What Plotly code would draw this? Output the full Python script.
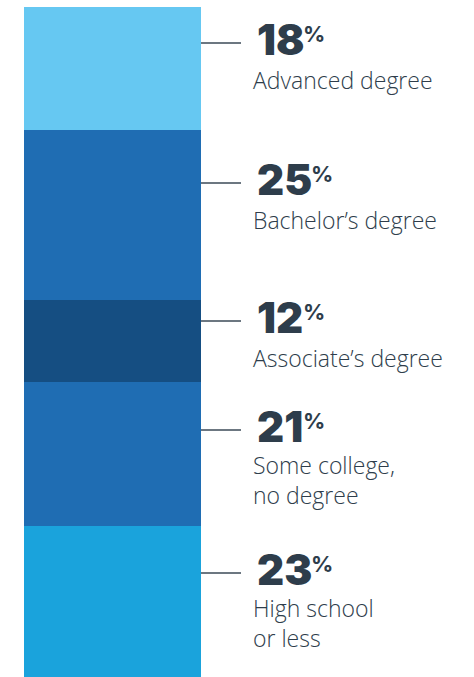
import plotly.graph_objects as go

# Educational attainment shares, stacked bottom-to-top
categories = ["High school or less", "Some college, no degree", "Associate's degree",
              "Bachelor's degree", "Advanced degree"]
label_lines = [["High school", "or less"], ["Some college,", "no degree"], ["Associate’s degree"],
               ["Bachelor’s degree"], ["Advanced degree"]]
shares = [23, 21, 12, 25, 18]
colors = ["#1aa3dc", "#1f6db3", "#154e82", "#1f6db3", "#66c8f2"]

# Leader-line vertical positions (figure pixels from top), bottom-to-top order
leader_px = [573, 430, 321, 183, 43]

W, H = 474, 677
TOP = 7
TEXT = "#2e3d4b"
NUM_SIZE = 42
LABEL_SIZE = 23
# approximate advance widths of Inter Black digits, in em
DIGIT_EM = {"1": 0.41}

fig = go.Figure()
for cat, val, col in zip(categories, shares, colors):
    fig.add_trace(go.Bar(x=[0], y=[val], name=cat, marker=dict(color=col, line=dict(width=0)),
                         width=1, hoverinfo="skip", showlegend=False))

def py(p):
    # figure pixel row -> paper y (plot area spans TOP..H)
    return 1 - (p - TOP) / (H - TOP)

def px(p):
    return p / W

shapes = []
annotations = []
for val, lines, ly in zip(shares, label_lines, leader_px):
    shapes.append(dict(type="line", xref="paper", yref="paper",
                       x0=px(201), x1=px(241), y0=py(ly), y1=py(ly),
                       line=dict(color="#3b4a57", width=1.5)))
    num = str(val)
    num_w = sum(DIGIT_EM.get(c, 0.61) for c in num) * NUM_SIZE
    annotations.append(dict(xref="paper", yref="paper", x=px(255), y=py(ly - 4),
                            xanchor="left", yanchor="middle", showarrow=False,
                            text=num,
                            font=dict(family="Inter", size=NUM_SIZE, weight=900, color=TEXT)))
    annotations.append(dict(xref="paper", yref="paper", x=px(255 + num_w + 3), y=py(ly - 9),
                            xanchor="left", yanchor="middle", showarrow=False,
                            text="%",
                            font=dict(family="Inter", size=22, weight=700, color=TEXT)))
    # centre of the (possibly two-line) label block below the number
    extra = (len(lines) - 1) * (1.3 * LABEL_SIZE / 2 - 2)
    annotations.append(dict(xref="paper", yref="paper", x=px(251), y=py(ly + 37 + extra),
                            xanchor="left", yanchor="middle", showarrow=False, align="left",
                            text="<br>".join(lines),
                            font=dict(family="Open Sans", size=LABEL_SIZE, weight=300, color=TEXT)))

fig.update_layout(
    barmode="stack",
    width=W, height=H,
    margin=dict(l=0, r=0, t=TOP, b=0),
    paper_bgcolor="white", plot_bgcolor="white",
    xaxis=dict(domain=[24 / W, 201 / W], range=[-0.5, 0.5], visible=False, fixedrange=True),
    yaxis=dict(range=[0.8, 99], visible=False, fixedrange=True),
    shapes=shapes,
    annotations=annotations,
    bargap=0,
)

fig.write_html("out.html")
